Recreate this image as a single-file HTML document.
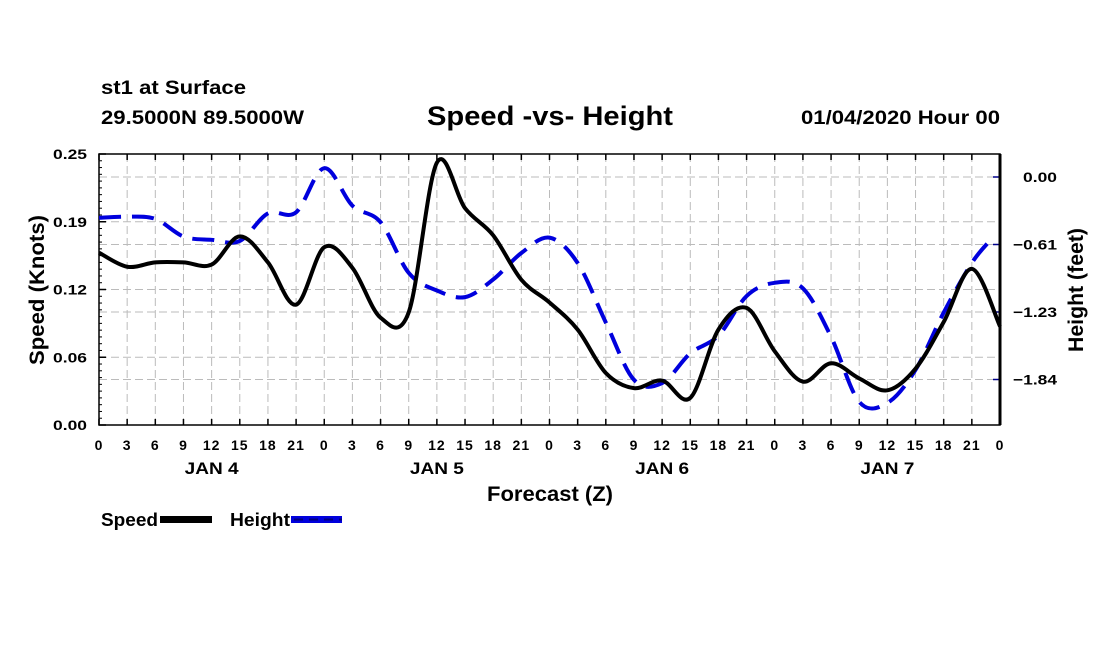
<!DOCTYPE html>
<html><head><meta charset="utf-8"><style>
body{margin:0;background:#fff;}
svg text{font-family:"Liberation Sans",Arial,sans-serif;font-weight:bold;fill:#000;}
</style></head><body>
<svg id="chart" width="1100" height="650" viewBox="0 0 1100 650" xmlns="http://www.w3.org/2000/svg">
<text x="101" y="94" font-size="19" textLength="145" lengthAdjust="spacingAndGlyphs">st1 at Surface</text>
<text x="101" y="124" font-size="19" textLength="203" lengthAdjust="spacingAndGlyphs">29.5000N 89.5000W</text>
<text x="427" y="125" font-size="27" textLength="246" lengthAdjust="spacingAndGlyphs">Speed -vs- Height</text>
<text x="801" y="124" font-size="19" textLength="199" lengthAdjust="spacingAndGlyphs">01/04/2020 Hour 00</text>
<g id="grid"></g>
<g id="axes"></g>
<g id="series"></g>
<text transform="translate(44,290) rotate(-90)" font-size="21" text-anchor="middle" textLength="150" lengthAdjust="spacingAndGlyphs">Speed (Knots)</text>
<text transform="translate(1083,290) rotate(-90)" font-size="21" text-anchor="middle" textLength="124" lengthAdjust="spacingAndGlyphs">Height (feet)</text>
<text x="550" y="501" font-size="21" text-anchor="middle" textLength="126" lengthAdjust="spacingAndGlyphs">Forecast (Z)</text>
<g>
<text x="101" y="526" font-size="18" textLength="57" lengthAdjust="spacingAndGlyphs">Speed</text>
<rect x="160" y="516" width="52" height="7" fill="#000"/>
<text x="230" y="526" font-size="18" textLength="60" lengthAdjust="spacingAndGlyphs">Height</text>
<rect x="291" y="516" width="51" height="7" fill="#0000dd"/>
<line x1="294" y1="519.5" x2="342" y2="519.5" stroke="#000080" stroke-width="2" stroke-dasharray="9,6"/>
</g>
</svg>
<script>
const hours = [0,3,6,9,12,15,18,21,24,27,30,33,36,39,42,45,48,51,54,57,60,63,66,69,72,75,78,81,84,87,90,93,96];
const xTickLabels = ["0","3","6","9","12","15","18","21","0","3","6","9","12","15","18","21","0","3","6","9","12","15","18","21","0","3","6","9","12","15","18","21","0"];
const dayLabels = ["JAN 4","JAN 5","JAN 6","JAN 7"];
const dayHours = [12,36,60,84];
const speedTicks = [0,0.0625,0.125,0.1875,0.25];
const speedTickLabels = ["0.00","0.06","0.12","0.19","0.25"];
const heightTicks = [0,-0.6125,-1.225,-1.8375];
const heightTickLabels = ["0.00","\u22120.61","\u22121.23","\u22121.84"];
const speedValues = [0.159,0.146,0.150,0.150,0.148,0.174,0.150,0.111,0.164,0.145,0.099,0.104,0.242,0.200,0.175,0.134,0.113,0.088,0.048,0.034,0.041,0.025,0.088,0.108,0.068,0.040,0.057,0.043,0.032,0.052,0.095,0.144,0.091];
const heightHours = [0,3,6,9,12,15,18,21,24,27,30,33,36,39,42,45,48,51,54,57,60,63,66,69,72,75,78,81,84,87,90,93,95];
const heightValues = [-0.37,-0.36,-0.38,-0.54,-0.57,-0.58,-0.33,-0.32,0.08,-0.26,-0.41,-0.87,-1.03,-1.09,-0.93,-0.69,-0.55,-0.78,-1.32,-1.84,-1.87,-1.60,-1.44,-1.08,-0.96,-1.01,-1.45,-2.04,-2.05,-1.75,-1.23,-0.78,-0.57];

const L=99,R=1000,T=154,B=425;
const xS=h=>L+(R-L)*h/96;
const yS=v=>B-(B-T)*v/0.25;
const yH=v=>177+(v/-0.6125)*67.5;
const NS="http://www.w3.org/2000/svg";
function mk(tag,attrs,parent){const e=document.createElementNS(NS,tag);for(const k in attrs)e.setAttribute(k,attrs[k]);parent.appendChild(e);return e;}
const grid=document.getElementById('grid'),axes=document.getElementById('axes'),series=document.getElementById('series');
hours.forEach((h,i)=>{
  if(i>0&&i<hours.length-1){const g=mk('line',{x1:xS(h),x2:xS(h),y1:T,y2:B,stroke:'#bbb','stroke-width':1,'stroke-dasharray':'8,4'},grid);
  
  }
  const t=mk('line',{x1:xS(h),x2:xS(h),y1:B,y2:B-6,stroke:'#000','stroke-width':1.5},axes);
  
  
  const t2=mk('line',{x1:xS(h),x2:xS(h),y1:T,y2:T+6,stroke:'#000','stroke-width':1.5},axes);
  
  
  const lb=mk('text',{x:xS(h),y:450,'font-size':14,'text-anchor':'middle','letter-spacing':1},axes);lb.textContent=xTickLabels[i];
  
  
});
dayHours.forEach((h,i)=>{const d=mk('text',{x:xS(h),y:474,'font-size':17,'text-anchor':'middle',textLength:54,lengthAdjust:'spacingAndGlyphs'},axes);d.textContent=dayLabels[i];
  
  });
speedTicks.forEach((v,i)=>{
  if(v>0&&v<0.25){const g=mk('line',{x1:L,x2:R,y1:yS(v),y2:yS(v),stroke:'#bbb','stroke-width':1,'stroke-dasharray':'8,4'},grid);
  
  }
  const t=mk('line',{x1:L,x2:L+7,y1:yS(v),y2:yS(v),stroke:'#000','stroke-width':1.5},axes);
  
  
  const lb=mk('text',{x:53,y:yS(v)+5,'font-size':14,textLength:34,lengthAdjust:'spacingAndGlyphs'},axes);lb.textContent=speedTickLabels[i];
  
  
});
for(let k=1;k<40;k++){const v=k*0.00625;if(Math.abs(v/0.0625-Math.round(v/0.0625))<1e-6)continue;
  const m=mk('line',{x1:L,x2:L+3,y1:yS(v),y2:yS(v),stroke:'#000','stroke-width':1},axes);
  
  }
heightTicks.forEach((v,i)=>{
  const g=mk('line',{x1:L,x2:R,y1:yH(v),y2:yH(v),stroke:'#bbb','stroke-width':1,'stroke-dasharray':'8,4'},grid);
  
  
  const t=mk('line',{x1:R,x2:R-7,y1:yH(v),y2:yH(v),stroke:'#00008b','stroke-width':1.5},axes);
  
  
  const lb=mk('text',{x:1057,y:yH(v)+5,'font-size':14,'text-anchor':'end',textLength:i===0?34:44,lengthAdjust:'spacingAndGlyphs'},axes);lb.textContent=heightTickLabels[i];
  
  
});
const f=mk('rect',{x:L,y:T,width:R-L,height:B-T,fill:'none',stroke:'#000','stroke-width':1.5},axes);


const ra=mk('line',{x1:R,x2:R,y1:T,y2:B,stroke:'#000','stroke-width':3},axes);


function smooth(pts){let d=`M${pts[0][0]},${pts[0][1]}`;
  for(let i=0;i<pts.length-1;i++){const p0=pts[Math.max(0,i-1)],p1=pts[i],p2=pts[i+1],p3=pts[Math.min(pts.length-1,i+2)];
    d+=` C${p1[0]+(p2[0]-p0[0])/6},${p1[1]+(p2[1]-p0[1])/6} ${p2[0]-(p3[0]-p1[0])/6},${p2[1]-(p3[1]-p1[1])/6} ${p2[0]},${p2[1]}`;}
  return d;}
const hp=mk('path',{d:smooth(heightHours.map((h,i)=>[xS(h),yH(heightValues[i])])),fill:'none',stroke:'#0000dd','stroke-width':4,'stroke-dasharray':'22,11'},series);


const sp=mk('path',{d:smooth(hours.map((h,i)=>[xS(h),yS(speedValues[i])])),fill:'none',stroke:'#000','stroke-width':4},series);


</script>
</body></html>
